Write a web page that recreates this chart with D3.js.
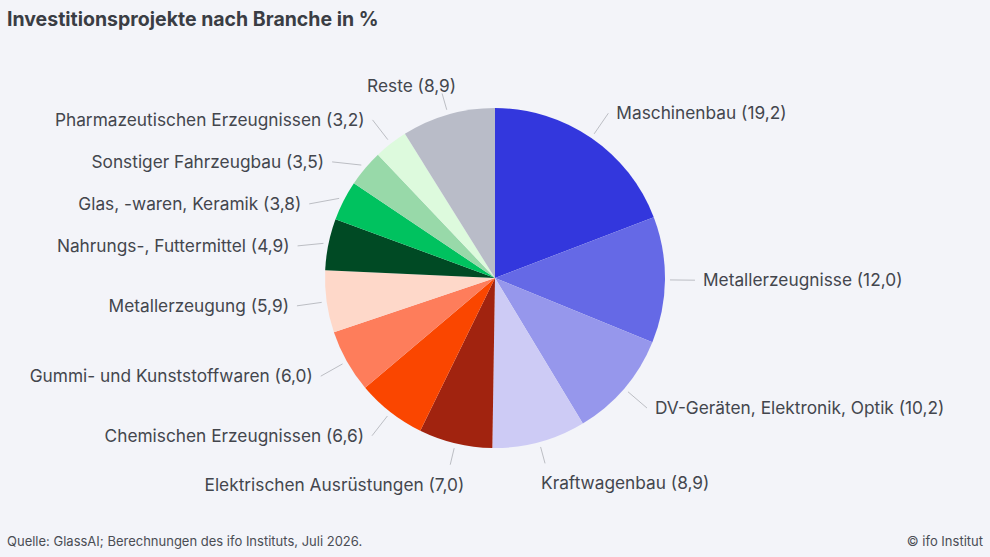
<!DOCTYPE html>
<html>
<head>
<meta charset="utf-8">
<style>
    body { margin: 0; background: #f3f4f9; }
    svg { display: block; font-family: Inter, 'Noto Sans', sans-serif; }
    .title { font-size: 19.5px; font-weight: 700; fill: #3a3d44; }
    .label { font-size: 17.3px; fill: #43464d; }
    .foot { font-size: 13px; fill: #4a4d54; }
    .leader { fill: none; stroke: #bcbec4; stroke-width: 1; }
</style>
</head>
<body>
<svg id="chart" width="990" height="557"></svg>
<script src="https://cdn.jsdelivr.net/npm/d3@7"></script>
<script>
    const branches = ["Maschinenbau", "Metallerzeugnisse", "DV-Geräten, Elektronik, Optik", "Kraftwagenbau",
        "Elektrischen Ausrüstungen", "Chemischen Erzeugnissen", "Gummi- und Kunststoffwaren", "Metallerzeugung",
        "Nahrungs-, Futtermittel", "Glas, -waren, Keramik", "Sonstiger Fahrzeugbau", "Pharmazeutischen Erzeugnissen", "Reste"];
    const shares = [19.2, 12.0, 10.2, 8.9, 7.0, 6.6, 6.0, 5.9, 4.9, 3.8, 3.5, 3.2, 8.9];
    const colors = ["#3337dd", "#6569e6", "#9697ec", "#cdcbf5", "#a1230f", "#fa4600", "#fe7d5b", "#fed8c9",
        "#004a24", "#00c25f", "#98d9a9", "#ddfadd", "#b9bcc8"];

    const svg = d3.select("#chart");
    const cx = 495, cy = 278, radius = 170;
    const fmt = v => v.toFixed(1).replace(".", ",");

    svg.append("text").attr("class", "title").attr("x", 7).attr("y", 26)
        .text("Investitionsprojekte nach Branche in %");
    svg.append("text").attr("class", "foot").attr("x", 7).attr("y", 546)
        .text("Quelle: GlassAI; Berechnungen des ifo Instituts, Juli 2026.");
    svg.append("text").attr("class", "foot").attr("x", 983).attr("y", 546).attr("text-anchor", "end")
        .text("© ifo Institut");

    const data = branches.map((b, i) => ({ name: b, value: shares[i], color: colors[i] }));
    const arcs = d3.pie().sort(null).value(d => d.value)(data);
    const arc = d3.arc().innerRadius(0).outerRadius(radius);

    const g = svg.append("g").attr("transform", `translate(${cx},${cy})`);
    g.selectAll("path.slice").data(arcs).join("path")
        .attr("class", "slice")
        .attr("d", arc)
        .attr("fill", d => d.data.color);

    // label layout: points on a circle of radius 200, near-vertical ones above/below
    const labelR = 200, startR = 175, vertR = 192;
    const labels = arcs.map(a => {
        const ang = (a.startAngle + a.endAngle) / 2;
        const s = Math.sin(ang), c = -Math.cos(ang);
        const lb = { a, ang, s, c, x0: startR * s, y0: startR * c };
        if (Math.abs(s) < 0.4) {
            lb.vertical = true;
            lb.x1 = vertR * s; lb.y1 = vertR * c;
        } else {
            lb.side = s > 0 ? 1 : -1;
            lb.y1 = labelR * c;
        }
        return lb;
    });

    // push overlapping labels downward on each side
    [-1, 1].forEach(side => {
        const list = labels.filter(l => l.side === side).sort((p, q) => p.y1 - q.y1);
        for (let i = 1; i < list.length; i++) {
            if (list[i].y1 - list[i - 1].y1 < 42) list[i].y1 = list[i - 1].y1 + 42;
        }
    });
    labels.forEach(l => {
        if (!l.vertical) {
            const yy = Math.max(-labelR, Math.min(labelR, l.y1));
            l.x1 = l.side * Math.sqrt(labelR * labelR - yy * yy);
        }
    });

    g.selectAll("path.leader").data(labels).join("path")
        .attr("class", "leader")
        .attr("d", l => d3.line()([[l.x0, l.y0], [l.x1, l.y1]]));

    g.selectAll("text.label").data(labels).join("text")
        .attr("class", "label")
        .attr("dy", "0.35em")
        .attr("text-anchor", l => l.vertical ? (l.s < 0 ? "end" : "start") : (l.side > 0 ? "start" : "end"))
        .attr("x", l => l.vertical ? (l.s < 0 ? l.x1 + 14 : l.x1 - 4) : l.x1 + l.side * 8)
        .attr("y", l => l.vertical ? (l.c < 0 ? l.y1 - 8 : l.y1 + 20) : l.y1)
        .text(l => `${l.a.data.name} (${fmt(l.a.data.value)})`);
</script>
</body>
</html>
